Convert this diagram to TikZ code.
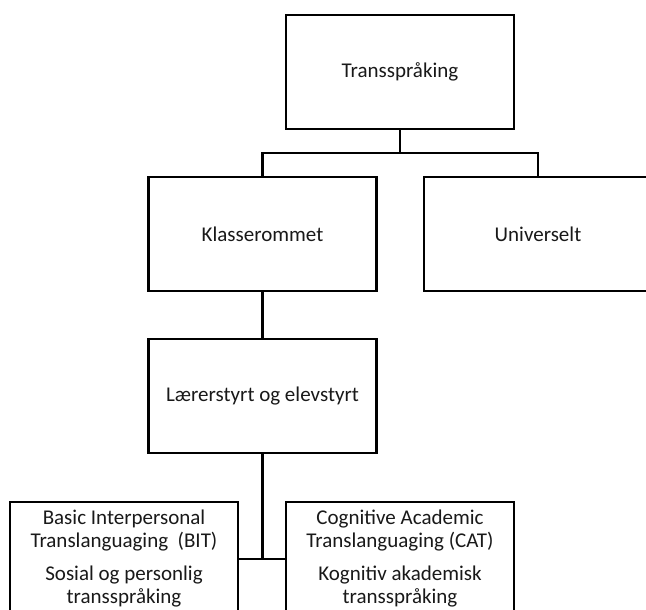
\documentclass[tikz,border=0pt]{standalone}
\usepackage{fontspec}
\setmainfont{Carlito}
\begin{document}
\begin{tikzpicture}[x=1pt,y=-1pt,
  box/.style={draw=black, line width=2.2pt, rectangle, minimum width=228pt, minimum height=114pt,
    inner sep=0pt, align=center, font=\fontsize{21}{23}\selectfont, text=black!90},
  conn/.style={draw=black, line width=2.2pt}]
\clip (0,0) rectangle (646,610);
\fill[white] (0,0) rectangle (646,610);
\node[box] (top) at (400,72) {Transspråking};
\node[box] (klasse) at (262.5,234) {Klasserommet};
\node[box] (univ) at (538,234) {Universelt};
\node[box] (laerer) at (262.5,396) {Lærerstyrt og elevstyrt};
\node[box] (bit) at (124,559) {Basic Interpersonal\\Translanguaging~ (BIT)\\[10pt]Sosial og personlig\\transspråking};
\node[box] (cat) at (400,559) {Cognitive Academic\\Translanguaging (CAT)\\[10pt]Kognitiv akademisk\\transspråking};
\coordinate (j1) at (400,153);
\coordinate (j2) at (262.5,559);
\draw[conn] (top.south) -- (j1);
\draw[conn] (klasse.north) |- (j1) -| (univ.north);
\draw[conn] (klasse.south) -- (laerer.north);
\draw[conn] (laerer.south) -- (j2);
\draw[conn] (bit.east) -- (cat.west);
\end{tikzpicture}
\end{document}
